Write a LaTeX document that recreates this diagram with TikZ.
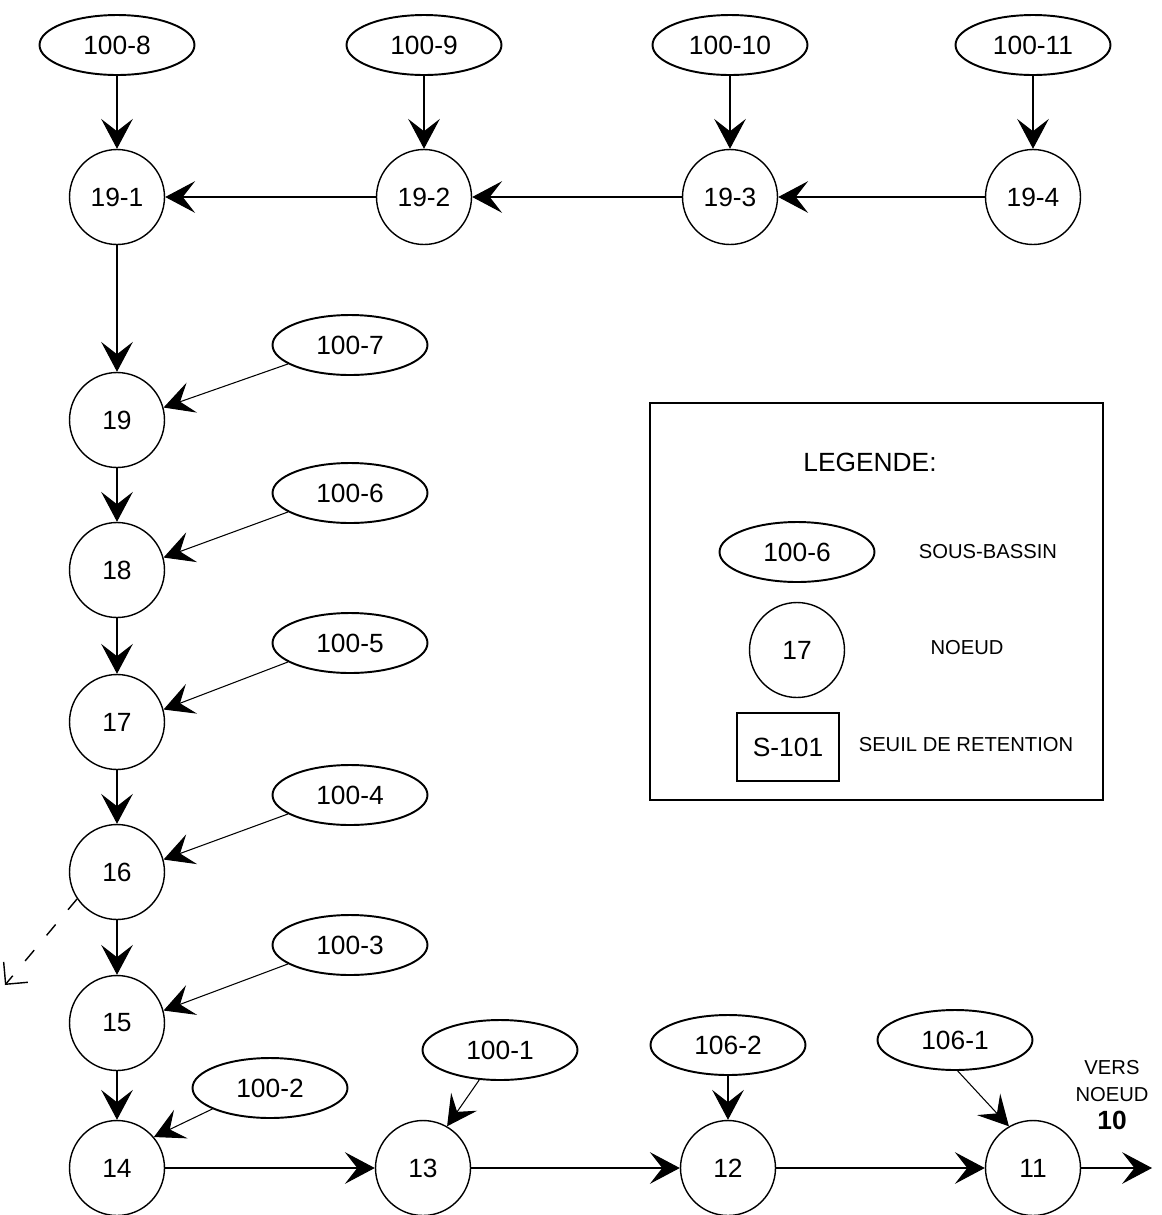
\documentclass[tikz,border=0pt]{standalone}
\usepackage{fontspec}
\setmainfont{Liberation Sans}
\usetikzlibrary{shapes.geometric, arrows.meta, positioning}
\tikzset{
  sbas/.style={
    ellipse, draw, line width=1.1pt,
    minimum width=3.1cm, minimum height=1.2cm, inner sep=0pt,
    font=\fontsize{15}{17}\selectfont
  },
  noeud/.style={
    circle, draw, line width=0.8pt,
    minimum size=1.9cm, inner sep=0pt,
    font=\fontsize{15}{17}\selectfont
  },
  seuil/.style={
    rectangle, draw, line width=1.1pt,
    minimum width=2.05cm, minimum height=1.35cm, inner sep=0pt,
    font=\fontsize{15}{17}\selectfont
  },
  ltxt/.style={font=\fontsize{11.5}{13}\selectfont},
  arr/.style={-{Stealth[length=17pt,width=18pt,inset=7pt]}, line width=0.6pt},
  darr/.style={-{Straight Barb[length=9pt,width=18pt]}, dash pattern=on 8pt off 11pt, line width=0.8pt},
}
\begin{document}
\begin{tikzpicture}[x=0.02cm, y=-0.02cm]
  \useasboundingbox (0,0) rectangle (1162,1215);
  % sous-bassins du haut
  \node[sbas] (e8)  at (117,45)  {100-8};
  \node[sbas] (e9)  at (424,45)  {100-9};
  \node[sbas] (e10) at (730,45)  {100-10};
  \node[sbas] (e11) at (1033,45) {100-11};
  % noeuds du haut
  \node[noeud] (n191) at (117,197)  {19-1};
  \node[noeud] (n192) at (424,197)  {19-2};
  \node[noeud] (n193) at (730,197)  {19-3};
  \node[noeud] (n194) at (1033,197) {19-4};
  % colonne de gauche
  \node[noeud] (n19) at (117,420)  {19};
  \node[noeud] (n18) at (117,570)  {18};
  \node[noeud] (n17) at (117,722)  {17};
  \node[noeud] (n16) at (117,872)  {16};
  \node[noeud] (n15) at (117,1023) {15};
  \node[noeud] (n14) at (117,1168) {14};
  \node[sbas] (e7) at (350,345)  {100-7};
  \node[sbas] (e6) at (350,493)  {100-6};
  \node[sbas] (e5) at (350,643)  {100-5};
  \node[sbas] (e4) at (350,795)  {100-4};
  \node[sbas] (e3) at (350,945)  {100-3};
  \node[sbas] (e2) at (270,1088) {100-2};
  % ligne du bas
  \node[noeud] (n13) at (423,1168)  {13};
  \node[noeud] (n12) at (728,1168)  {12};
  \node[noeud] (n11) at (1033,1168) {11};
  \node[sbas] (e1)  at (500,1050) {100-1};
  \node[sbas] (f2)  at (728,1045) {106-2};
  \node[sbas] (f1)  at (955,1040) {106-1};
  \coordinate (out) at (1152,1168);
  \coordinate (fuite) at (5,985);
  \node[align=center, font=\fontsize{11.5}{15}\selectfont] (vers) at (1112,1095)
    {VERS\\NOEUD\\[1pt]{\fontsize{15}{17}\selectfont\bfseries 10}};
  % legende
  \node[draw, line width=0.7pt, minimum width=9.06cm, minimum height=7.94cm] (leg) at (876.5,601.5) {};
  \node[font=\fontsize{15}{17}\selectfont] (legt) at (870,462) {LEGENDE:};
  \node[sbas] (le) at (797,552) {100-6};
  \node[noeud] (ln) at (797,650) {17};
  \node[seuil] (ls) at (788,747) {S-101};
  \node[ltxt] (lte) at (988,552) {SOUS-BASSIN};
  \node[ltxt] (ltn) at (967,648) {NOEUD};
  \node[ltxt] (lts) at (966,745) {SEUIL DE RETENTION};
  % connecteurs
  \draw[arr] (e8)--(n191); \draw[arr] (e9)--(n192);
  \draw[arr] (e10)--(n193); \draw[arr] (e11)--(n194);
  \draw[arr] (n194)--(n193); \draw[arr] (n193)--(n192);
  \draw[arr] (n192)--(n191);
  \draw[arr] (n191)--(n19); \draw[arr] (n19)--(n18);
  \draw[arr] (n18)--(n17); \draw[arr] (n17)--(n16);
  \draw[arr] (n16)--(n15); \draw[arr] (n15)--(n14);
  \draw[arr] (e7.197)--(n19.15); \draw[arr] (e6.197)--(n18.15);
  \draw[arr] (e5.197)--(n17.15); \draw[arr] (e4.197)--(n16.15);
  \draw[arr] (e3.197)--(n15.15); \draw[arr] (e2.200)--(n14.40);
  \draw[arr] (n14)--(n13); \draw[arr] (n13)--(n12);
  \draw[arr] (n12)--(n11); \draw[arr] (n11)--(out);
  \draw[arr] (e1)--(n13.60); \draw[arr] (f2)--(n12);
  \draw[arr] (f1.275)--(n11.120);
  \draw[darr] (n16.214)--(fuite);
\end{tikzpicture}
\end{document}
